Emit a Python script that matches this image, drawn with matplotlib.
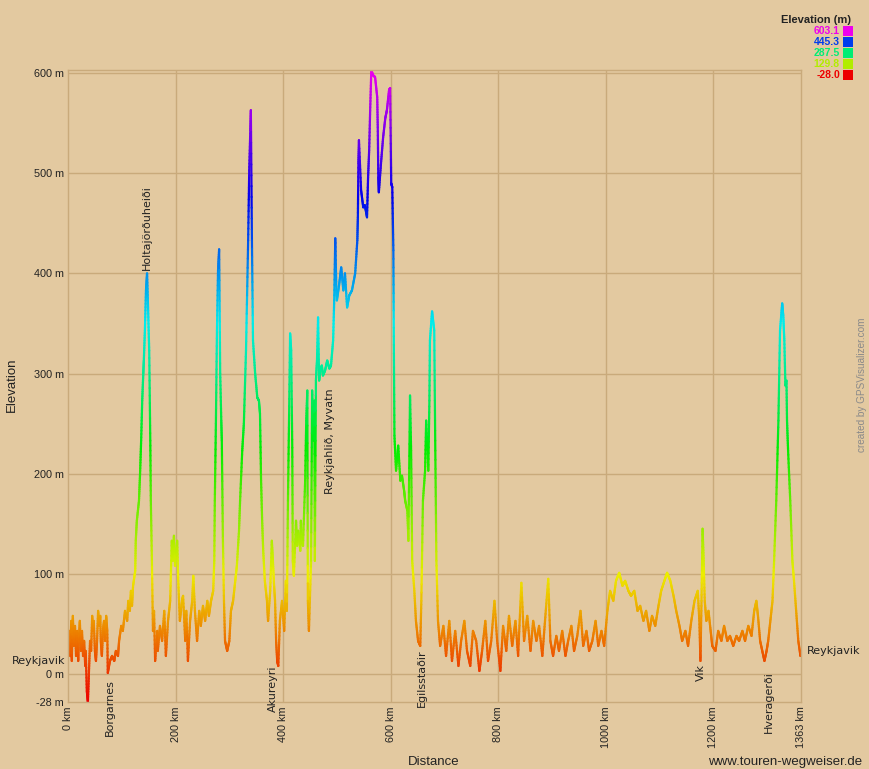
import numpy as np
import matplotlib.pyplot as plt
from matplotlib.collections import LineCollection
from matplotlib.colors import hsv_to_rgb, ListedColormap, Normalize
from matplotlib.patches import Rectangle

# Elevation profile (distance in km, elevation in m)
dist_km = [0, 2, 4, 6, 7, 9, 11, 13, 15, 17, 19, 20, 22, 24, 26, 28, 30, 32, 33, 35,
           37, 39, 41, 43, 45, 46, 48, 50, 52, 54, 56, 58, 60, 61, 63, 65, 67, 69, 71, 73,
           74, 78, 82, 86, 89, 93, 95, 99, 102, 106, 110, 112, 115, 117, 119, 121, 125, 126, 128, 132,
           134, 136, 138, 140, 141, 143, 145, 147, 149, 151, 153, 154, 156, 158, 160, 162, 166, 167, 171, 175,
           179, 182, 186, 190, 193, 195, 197, 199, 203, 205, 208, 212, 214, 218, 220, 223, 227, 231, 233, 236,
           240, 244, 247, 251, 255, 259, 262, 266, 270, 272, 273, 275, 277, 279, 281, 283, 285, 286, 288, 290,
           292, 296, 300, 303, 307, 311, 314, 318, 320, 324, 327, 331, 335, 337, 339, 340, 342, 344, 348, 352,
           355, 357, 359, 361, 363, 366, 370, 372, 376, 379, 381, 383, 385, 387, 389, 391, 394, 398, 402, 405,
           407, 409, 411, 413, 415, 417, 418, 420, 424, 426, 428, 432, 433, 435, 437, 441, 443, 445, 446, 448,
           452, 454, 456, 458, 459, 461, 463, 465, 467, 469, 472, 474, 478, 482, 486, 489, 493, 495, 497, 499,
           500, 504, 508, 512, 515, 519, 523, 528, 534, 538, 539, 540, 541, 545, 549, 552, 556, 558, 560, 562,
           564, 567, 571, 575, 576, 577, 578, 582, 586, 590, 593, 597, 599, 601, 603, 605, 606, 607, 610, 614,
           618, 621, 625, 627, 631, 633, 636, 638, 640, 644, 647, 651, 655, 657, 660, 664, 666, 670, 672, 673,
           677, 681, 683, 685, 688, 692, 698, 703, 709, 714, 720, 726, 731, 737, 742, 748, 753, 759, 765, 770,
           776, 781, 787, 793, 798, 804, 809, 815, 820, 826, 832, 837, 843, 848, 854, 860, 865, 871, 876, 882,
           887, 893, 897, 902, 908, 913, 919, 925, 930, 936, 941, 947, 953, 958, 964, 969, 975, 981, 986, 992,
           997, 1003, 1008, 1014, 1019, 1025, 1031, 1036, 1042, 1047, 1053, 1059, 1064, 1070, 1075, 1081, 1086, 1092, 1098, 1103,
           1109, 1114, 1120, 1126, 1131, 1137, 1142, 1148, 1153, 1159, 1165, 1171, 1174, 1176, 1178, 1180, 1182, 1184, 1187, 1191,
           1195, 1198, 1204, 1209, 1215, 1220, 1226, 1231, 1237, 1243, 1248, 1254, 1259, 1265, 1271, 1276, 1280, 1283, 1287, 1291,
           1295, 1299, 1302, 1306, 1310, 1313, 1317, 1321, 1324, 1328, 1330, 1332, 1334, 1336, 1337, 1339, 1343, 1347, 1350, 1354,
           1358, 1362, 1363]
elev_m = [23, 43, 18, 53, 13, 58, 28, 48, 18, 43, 13, 33, 53, 23, 43, 18, 33, 8, 23, -17,
          -28, 3, 33, 23, 58, 43, 53, 23, 13, 33, 63, 48, 58, 33, 18, 43, 53, 33, 58, 43,
          1, 13, 18, 13, 23, 18, 33, 48, 43, 63, 53, 73, 63, 83, 68, 88, 103, 133, 153, 173,
          200, 233, 273, 300, 313, 343, 383, 400, 363, 323, 233, 173, 113, 43, 63, 13, 43, 23, 48, 33,
          63, 18, 53, 73, 133, 113, 138, 108, 133, 93, 53, 73, 78, 33, 63, 13, 53, 73, 98, 63,
          33, 63, 48, 68, 53, 73, 58, 73, 83, 113, 173, 250, 343, 403, 424, 300, 253, 233, 136, 73,
          33, 23, 33, 63, 73, 93, 108, 143, 173, 223, 250, 323, 433, 503, 543, 563, 433, 333, 300, 276,
          273, 260, 193, 153, 123, 93, 73, 53, 83, 133, 113, 90, 73, 33, 13, 8, 53, 73, 43, 93,
          63, 173, 253, 340, 323, 226, 113, 98, 153, 128, 143, 123, 153, 133, 128, 193, 253, 283, 73, 43,
          113, 283, 233, 273, 113, 293, 313, 356, 293, 303, 308, 298, 303, 313, 305, 308, 333, 373, 435, 383,
          373, 388, 406, 383, 400, 366, 378, 383, 400, 433, 456, 510, 533, 483, 466, 468, 456, 496, 523, 566,
          603, 598, 596, 576, 546, 496, 481, 510, 536, 555, 563, 583, 585, 490, 486, 423, 320, 238, 203, 228,
          193, 198, 183, 173, 163, 133, 278, 223, 113, 83, 53, 33, 28, 73, 173, 203, 253, 203, 273, 333,
          362, 343, 223, 113, 53, 28, 48, 18, 53, 13, 43, 8, 33, 53, 23, 8, 43, 33, 3, 23,
          53, 13, 33, 73, 33, 3, 48, 23, 58, 28, 53, 18, 91, 33, 58, 23, 53, 33, 48, 18,
          53, 95, 33, 18, 38, 23, 43, 18, 33, 48, 23, 38, 63, 28, 43, 23, 33, 53, 28, 43,
          28, 63, 83, 73, 93, 101, 88, 93, 83, 78, 83, 63, 68, 53, 63, 43, 58, 48, 68, 83,
          93, 101, 93, 78, 63, 48, 33, 43, 28, 53, 73, 83, 53, 13, 73, 145, 113, 73, 53, 63,
          43, 28, 23, 43, 33, 48, 33, 38, 28, 38, 33, 43, 33, 48, 38, 63, 73, 58, 33, 23,
          13, 23, 33, 53, 73, 113, 173, 253, 343, 370, 358, 333, 288, 293, 253, 223, 173, 113, 93, 63,
          33, 18, 23]

y_ticks = [-28, 0, 100, 200, 300, 400, 500, 600]
x_ticks = [0, 200, 400, 600, 800, 1000, 1200, 1363]
elev_min, elev_max = -28.0, 603.1
legend_values = [603.1, 445.3, 287.5, 129.8, -28.0]

places = ["Borgarnes", "Holtajörðuheiði", "Akureyri", "Reykjahlið, Myvatn",
          "Egilsstaðir", "Vik", "Hveragerði"]
place_km = [78, 147, 381, 487, 658, 1176, 1304]
place_m = [-5, 403, 8, 285, 25, 10, 3]

bg = "#E3C9A0"
grid_c = "#C9AA7B"
txt = "#222222"

# GPSVisualizer-style colour scale: hue runs red -> magenta with elevation
h = np.linspace(0, 300 / 360, 256)
cmap = ListedColormap(hsv_to_rgb(np.column_stack([h, np.ones(256), np.full(256, 0.93)])))
norm = Normalize(elev_min, elev_max)

fig = plt.figure(figsize=(8.69, 7.69), dpi=100, facecolor=bg)
ax = fig.add_axes([68 / 869, 1 - 702 / 769, 733 / 869, 632 / 769], facecolor=bg)

# grid
for v in [0, 100, 200, 300, 400, 500, 600]:
    ax.axhline(v, color=grid_c, lw=1.0, zorder=0)
for v in [200, 400, 600, 800, 1000, 1200]:
    ax.axvline(v, color=grid_c, lw=1.0, zorder=0)

# profile line coloured by elevation (segments cut into short pieces so the
# colour can change along steep climbs)
x = np.asarray(dist_km, float)
y = np.asarray(elev_m, float)
segs = []
for i in range(len(x) - 1):
    xx = np.linspace(x[i], x[i + 1], 13)
    yy = np.linspace(y[i], y[i + 1], 13)
    p = np.column_stack([xx, yy])
    segs.append(np.stack([p[:-1], p[1:]], axis=1))
segs = np.concatenate(segs)
lc = LineCollection(segs, cmap=cmap, norm=norm, linewidths=1.6, capstyle="round", zorder=2)
lc.set_array(segs[:, :, 1].mean(axis=1))
ax.add_collection(lc)

ax.set_xlim(0, 1363)
ax.set_ylim(elev_min, elev_max)
for s in ax.spines.values():
    s.set_color(grid_c)
    s.set_linewidth(1.0)

ax.set_yticks(y_ticks)
ax.set_yticklabels([f"{v} m" for v in y_ticks])
ax.set_xticks(x_ticks)
ax.set_xticklabels([f"{v} km" for v in x_ticks], rotation=90)
ax.tick_params(length=0, colors=txt, labelsize=7.8)
ax.tick_params(axis="y", pad=3)
ax.tick_params(axis="x", pad=3)
for lab in ax.get_xticklabels() + ax.get_yticklabels():
    lab.set_family("Liberation Sans")

# place names
for name, km, m in zip(places, place_km, place_m):
    va = "bottom" if name.startswith("Holta") else "top"
    ax.text(km, m, name, rotation=90, ha="center", va=va, fontsize=8,
            family="DejaVu Sans", color=txt, zorder=3)
ax.text(-4, 13, "Reykjavik", ha="right", va="center", fontsize=8,
        family="DejaVu Sans", color=txt, clip_on=False)
ax.text(1373, 23, "Reykjavik", ha="left", va="center", fontsize=8,
        family="DejaVu Sans", color=txt, clip_on=False)

# axis titles and credits
fig.text(12 / 869, 1 - 385 / 769, "Elevation", rotation=90, ha="center", va="center",
         fontsize=9.5, family="Liberation Sans", color=txt)
fig.text(434 / 869, 1 - 762 / 769, "Distance", ha="center", va="center",
         fontsize=9.5, family="Liberation Sans", color=txt)
fig.text(862 / 869, 1 - 762 / 769, "www.touren-wegweiser.de", ha="right", va="center",
         fontsize=9.5, family="Liberation Sans", color=txt)
fig.text(862 / 869, 1 - 385 / 769, "created by GPSVisualizer.com", rotation=90,
         ha="center", va="center", fontsize=7.2, family="Liberation Sans", color="#8a8a8a")

# colour legend
fig.text(851 / 869, 1 - 20 / 769, "Elevation (m)", ha="right", va="center",
         fontsize=8, fontweight="bold", family="Liberation Sans", color=txt)
for i, v in enumerate(legend_values):
    yc = 31 + 11 * i
    c = cmap(norm(v))
    fig.text(840 / 869, 1 - yc / 769, f"{v:.1f}", ha="right", va="center",
             fontsize=7.5, fontweight="bold", family="Liberation Sans", color=c)
    fig.patches.append(Rectangle((843 / 869, 1 - (yc + 5) / 769), 10 / 869, 10 / 769,
                                 transform=fig.transFigure, facecolor=c, edgecolor="none"))

fig.savefig("out.png", dpi=100, facecolor=bg)
